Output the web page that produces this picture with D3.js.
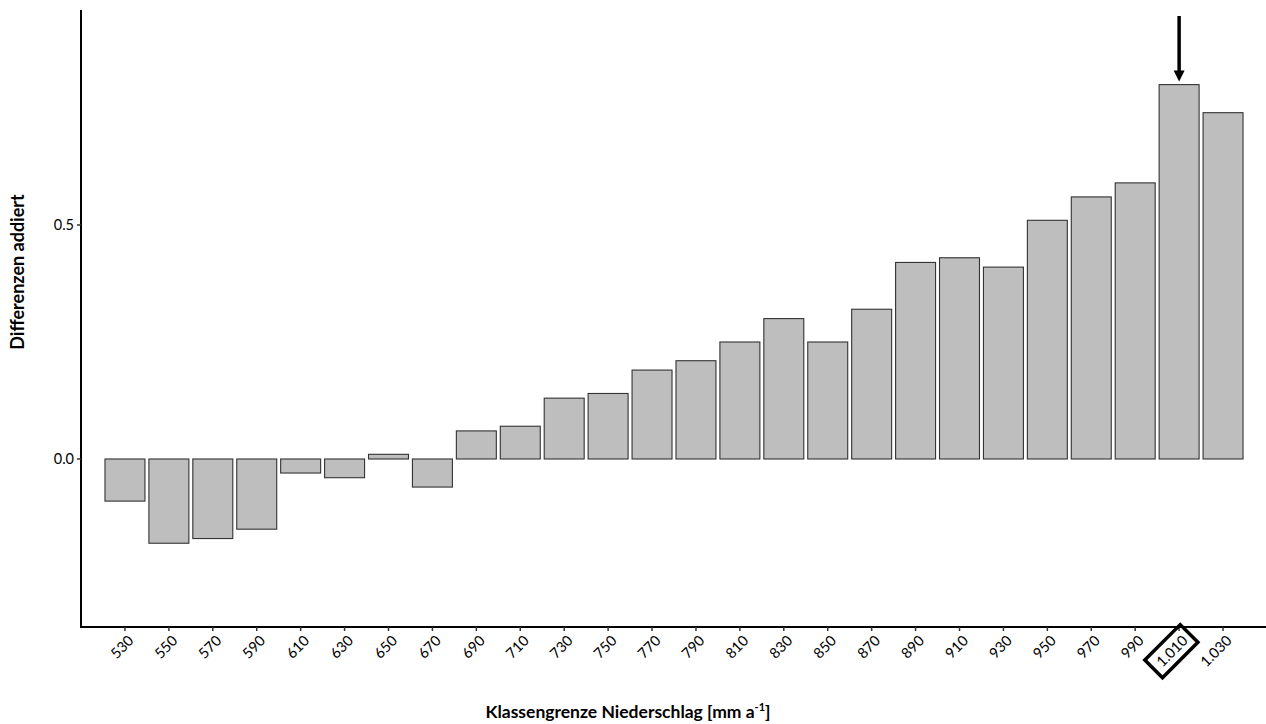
<!DOCTYPE html>
<html>
<head>
<meta charset="utf-8">
<script src="https://cdn.jsdelivr.net/npm/d3@7"></script>
<style>
  html, body { margin: 0; padding: 0; background: #fff; }
  svg { display: block; }
  text { font-family: Lato, "Open Sans", sans-serif; fill: #000; }
</style>
</head>
<body>
<svg id="chart" width="1266" height="724"></svg>
<script>
// ---- data ----
const categories = [530, 550, 570, 590, 610, 630, 650, 670, 690, 710, 730, 750, 770, 790, 810, 830, 850, 870, 890, 910, 930, 950, 970, 990, 1010, 1030];
const tickLabels = ["530", "550", "570", "590", "610", "630", "650", "670", "690", "710", "730", "750", "770", "790", "810", "830", "850", "870", "890", "910", "930", "950", "970", "990", "1.010", "1.030"];
const values = [-0.09, -0.18, -0.17, -0.15, -0.03, -0.04, 0.01, -0.06, 0.06, 0.07, 0.13, 0.14, 0.19, 0.21, 0.25, 0.30, 0.25, 0.32, 0.42, 0.43, 0.41, 0.51, 0.56, 0.59, 0.80, 0.74];
const yTickValues = [0.0, 0.5];
const yTickLabels = ["0.0", "0.5"];
const highlighted = "1.010";
const xTitle = "Klassengrenze Niederschlag [mm a";
const yTitle = "Differenzen addiert";

// ---- layout ----
const svg = d3.select("#chart");
const axisX = 81, axisBottom = 627, axisTop = 10, axisRight = 1266;

const x = d3.scaleBand()
  .domain(tickLabels)
  .range([103, 1245])
  .paddingInner(0.09)
  .paddingOuter(0.045);

const y = d3.scaleLinear()
  .domain([-0.359, 0.9594])
  .range([axisBottom, axisTop]);

// bars
svg.append("g").selectAll("rect")
  .data(values.map((v, i) => ({ label: tickLabels[i], cat: categories[i], v })))
  .join("rect")
  .attr("x", d => x(d.label))
  .attr("width", x.bandwidth())
  .attr("y", d => y(Math.max(0, d.v)))
  .attr("height", d => Math.abs(y(d.v) - y(0)))
  .attr("fill", "#bebebe")
  .attr("stroke", "#333")
  .attr("stroke-width", 1.1);

// y axis
const yAxis = svg.append("g");
yAxis.append("line")
  .attr("x1", axisX).attr("x2", axisX)
  .attr("y1", axisTop).attr("y2", axisBottom + 1)
  .attr("stroke", "#000").attr("stroke-width", 2);
yTickValues.forEach((v, i) => {
  yAxis.append("line")
    .attr("x1", axisX - 4).attr("x2", axisX)
    .attr("y1", y(v)).attr("y2", y(v))
    .attr("stroke", "#333").attr("stroke-width", 1.5);
  yAxis.append("text")
    .attr("x", axisX - 7).attr("y", y(v))
    .attr("dy", "0.35em")
    .attr("text-anchor", "end")
    .attr("font-size", 14.5)
    .attr("fill", "#222")
    .text(yTickLabels[i]);
});

// x axis
const xAxis = svg.append("g");
xAxis.append("line")
  .attr("x1", axisX - 1).attr("x2", axisRight)
  .attr("y1", axisBottom).attr("y2", axisBottom)
  .attr("stroke", "#000").attr("stroke-width", 2);
tickLabels.forEach(l => {
  const cx = x(l) + x.bandwidth() / 2;
  xAxis.append("line")
    .attr("x1", cx).attr("x2", cx)
    .attr("y1", axisBottom).attr("y2", axisBottom + 4)
    .attr("stroke", "#333").attr("stroke-width", 1.5);
  const g = xAxis.append("g")
    .attr("transform", `translate(${cx + 6},${axisBottom + 11}) rotate(-45)`);
  const t = g.append("text")
    .attr("x", 0).attr("y", 0)
    .attr("dy", "0.35em")
    .attr("text-anchor", "end")
    .attr("font-size", 14.5)
    .attr("fill", "#222")
    .text(l);
  if (l === highlighted) {
    const bb = t.node().getBBox();
    g.append("rect")
      .attr("x", bb.x - 7).attr("y", bb.y - 4)
      .attr("width", bb.width + 13).attr("height", bb.height + 8)
      .attr("fill", "none")
      .attr("stroke", "#000")
      .attr("stroke-width", 3.5);
  }
});

// arrow annotation above highlighted bar
const ax = x(highlighted) + x.bandwidth() / 2;
const arrowTipY = y(values[tickLabels.indexOf(highlighted)]) - 3;
svg.append("line")
  .attr("x1", ax).attr("x2", ax)
  .attr("y1", 16).attr("y2", arrowTipY - 9)
  .attr("stroke", "#000").attr("stroke-width", 3.5);
svg.append("path")
  .attr("d", `M${ax - 5.5},${arrowTipY - 11} L${ax + 5.5},${arrowTipY - 11} L${ax},${arrowTipY} Z`)
  .attr("fill", "#000");

// axis titles
const xt = svg.append("text")
  .attr("x", 628).attr("y", 718)
  .attr("text-anchor", "middle")
  .attr("font-size", 17.5)
  .attr("font-weight", "bold");
xt.append("tspan").text(xTitle);
xt.append("tspan").attr("font-size", 11).attr("dy", -7).text("-1");
xt.append("tspan").attr("dy", 7).text("]");

svg.append("text")
  .attr("transform", `translate(24,272) rotate(-90)`)
  .attr("text-anchor", "middle")
  .attr("font-size", 18)
  .attr("font-weight", "bold")
  .text(yTitle);
</script>
</body>
</html>
